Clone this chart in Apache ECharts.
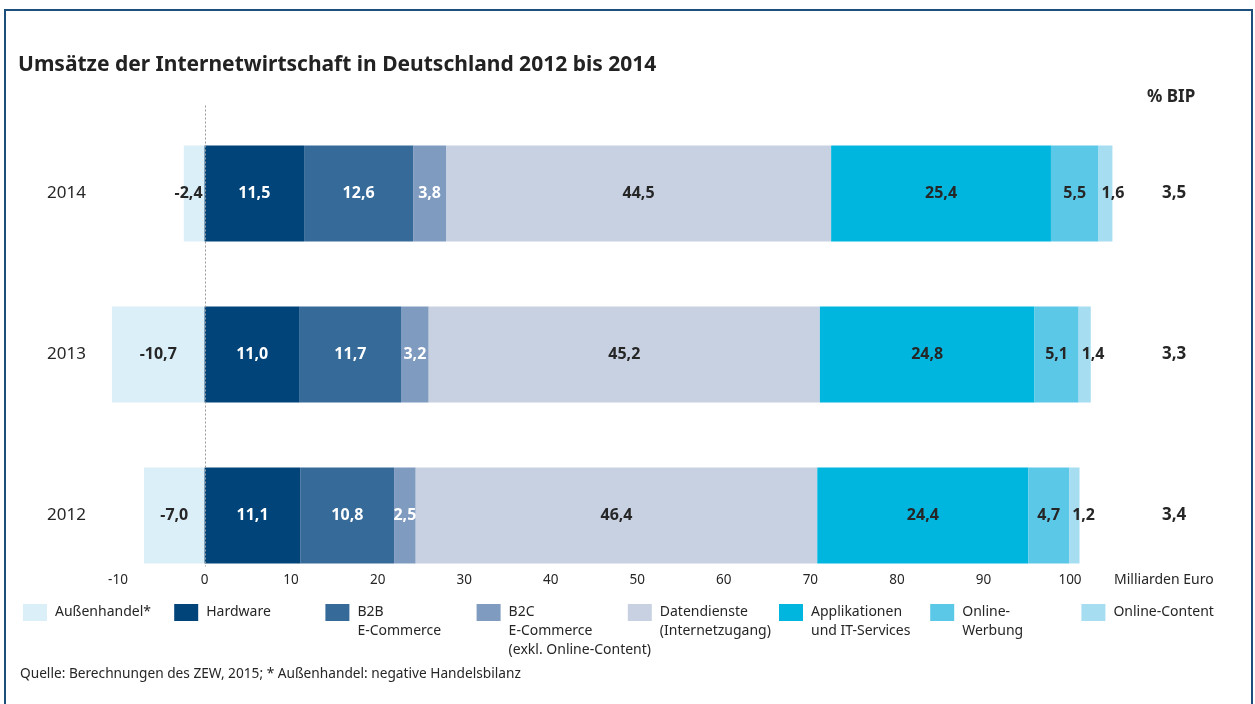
<!DOCTYPE html>
<html>
<head>
<meta charset="utf-8">
<script src="https://cdn.jsdelivr.net/npm/echarts@6/dist/echarts.min.js"></script>
<style>
html, body { margin: 0; padding: 0; background: #fff; }
#chart { width: 1255px; height: 704px; }
#frame { position: absolute; left: 4px; top: 9px; width: 1245px; height: 720px; border: 2px solid #1d4f7d; pointer-events: none; }
</style>
</head>
<body>
<div id="chart"></div>
<div id="frame"></div>
<script>
// Kategorien (von unten nach oben)
var years = ['2012', '2013', '2014'];
var bipShare = ['3,4', '3,3', '3,5'];

// Umsätze in Mrd. Euro je Segment
var aussenhandel = [-7.0, -10.7, -2.4];
var hardware = [11.1, 11.0, 11.5];
var b2b = [10.8, 11.7, 12.6];
var b2c = [2.5, 3.2, 3.8];
var datendienste = [46.4, 45.2, 44.5];
var applikationen = [24.4, 24.8, 25.4];
var onlineWerbung = [4.7, 5.1, 5.5];
var onlineContent = [1.2, 1.4, 1.6];

var segmentNames = ['Außenhandel*', 'Hardware', 'B2B\nE-Commerce', 'B2C\nE-Commerce\n(exkl. Online-Content)',
    'Datendienste\n(Internetzugang)', 'Applikationen\nund IT-Services', 'Online-\nWerbung', 'Online-Content'];
var segmentValues = [aussenhandel, hardware, b2b, b2c, datendienste, applikationen, onlineWerbung, onlineContent];
var segmentColors = ['#dbeff8', '#00447a', '#356a99', '#7f9bc0', '#c8d1e2', '#00b6df', '#5cc8e7', '#a6ddf1'];
var whiteLabel = [false, true, true, true, false, false, false, false];

var FONT = 'Noto Sans';
var TEXT = '#262626';
var LINE_H = 19;

function fmt(v) {
    return v.toFixed(1).replace('.', ',');
}

var chart = echarts.init(document.getElementById('chart'));

var series = segmentNames.map(function (name, i) {
    var data = segmentValues[i].map(function (v) {
        var item = { value: v };
        // sehr schmale negative Balken: Beschriftung rechtsbündig an der Nulllinie
        if (v < 0 && v > -4) {
            item.label = { position: 'insideRight', distance: 2 };
        }
        return item;
    });
    return {
        name: name,
        type: 'bar',
        stack: 'umsatz',
        barWidth: 96,
        clip: false,
        itemStyle: { color: segmentColors[i] },
        label: {
            show: true,
            position: i === 7 ? 'insideLeft' : 'inside',
            distance: 3,
            formatter: function (p) { return fmt(p.value); },
            fontFamily: FONT,
            fontSize: 16,
            fontWeight: 'bold',
            color: whiteLabel[i] ? '#ffffff' : TEXT
        },
        data: data
    };
});

// eine Legende je Segment, erste Textzeile auf Höhe des Farbfelds
var legends = segmentNames.map(function (name, i) {
    var extra = name.split('\n').length - 1;
    return {
        data: [name],
        left: 23 + i * 151.2,
        top: 603 - extra * LINE_H,
        padding: 0,
        itemWidth: 24,
        itemHeight: 17,
        icon: 'rect',
        selectedMode: false,
        formatter: function (n) {
            return new Array(extra + 1).join('\n') + n;
        },
        textStyle: {
            fontFamily: FONT,
            fontSize: 14,
            color: TEXT,
            lineHeight: LINE_H,
            padding: [0, 0, 0, 3]
        }
    };
});

chart.setOption({
    animation: false,
    textStyle: { fontFamily: FONT },
    title: [{
        text: 'Umsätze der Internetwirtschaft in Deutschland 2012 bis 2014',
        left: 18,
        top: 55,
        padding: 0,
        textStyle: { fontFamily: FONT, fontSize: 21, fontWeight: 'bold', color: '#222' }
    }, {
        text: '% BIP',
        left: 1147,
        top: 89,
        padding: 0,
        textStyle: { fontFamily: FONT, fontSize: 17, fontWeight: 'bold', color: TEXT }
    }, {
        text: 'Quelle: Berechnungen des ZEW, 2015; * Außenhandel: negative Handelsbilanz',
        left: 20,
        top: 667,
        padding: 0,
        textStyle: { fontFamily: FONT, fontSize: 13.7, fontWeight: 'normal', color: TEXT }
    }],
    legend: legends,
    grid: { left: 118, right: 185, top: 113, height: 483 },
    xAxis: {
        type: 'value',
        min: -10,
        max: 100,
        interval: 10,
        offset: -16,
        name: 'Milliarden Euro',
        nameLocation: 'end',
        nameGap: 44,
        nameTextStyle: { fontFamily: FONT, fontSize: 14, color: TEXT, align: 'left', verticalAlign: 'middle' },
        axisLine: { show: false },
        axisTick: { show: false },
        splitLine: { show: false },
        axisLabel: { margin: 0, verticalAlign: 'middle', fontFamily: FONT, fontSize: 13.5, color: TEXT }
    },
    yAxis: [{
        type: 'category',
        data: years,
        axisLine: { show: false },
        axisTick: { show: false },
        axisLabel: { margin: 32, fontFamily: FONT, fontSize: 17, color: TEXT }
    }, {
        type: 'category',
        position: 'right',
        data: years,
        axisLine: { show: false },
        axisTick: { show: false },
        axisLabel: {
            margin: 92,
            fontFamily: FONT,
            fontSize: 17,
            fontWeight: 'bold',
            color: TEXT,
            formatter: function (v, idx) { return bipShare[idx]; }
        }
    }],
    series: series
});

// gepunktete Nulllinie über die Balken
var x0 = Math.round(chart.convertToPixel({ xAxisIndex: 0 }, 0)) + 0.5;
var yTop = chart.convertToPixel({ yAxisIndex: 0 }, '2014') - 88;
var yBot = chart.convertToPixel({ yAxisIndex: 0 }, '2012') + 51;
chart.setOption({
    graphic: [{
        type: 'line',
        z: 100,
        shape: { x1: x0, y1: yTop, x2: x0, y2: yBot },
        style: { stroke: '#9a9a9a', lineWidth: 1, lineDash: [2, 2] }
    }]
});
</script>
</body>
</html>
